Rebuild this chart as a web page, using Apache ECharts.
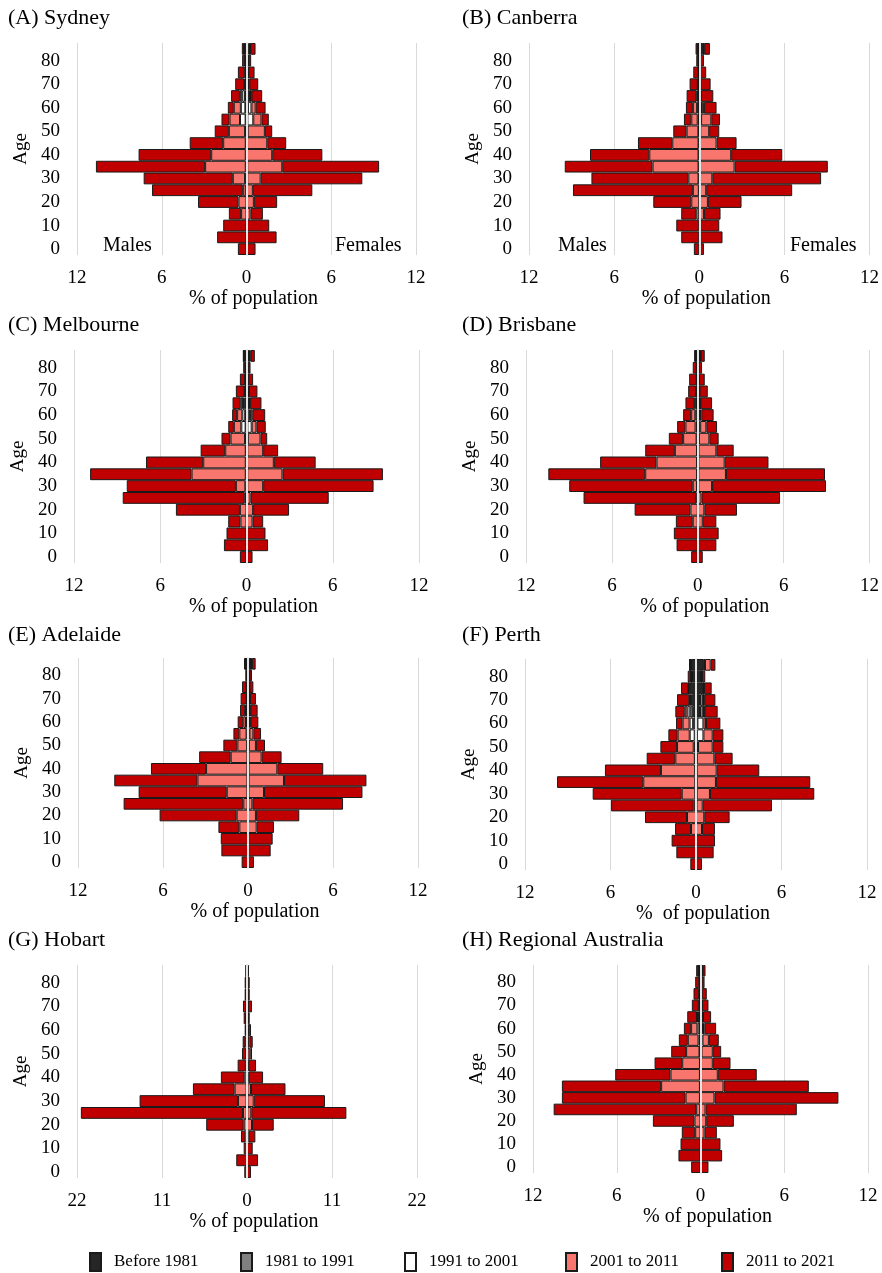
<!DOCTYPE html>
<html>
<head>
<meta charset="utf-8">
<script src="https://cdn.jsdelivr.net/npm/echarts@6/dist/echarts.min.js"></script>
<style>
  html, body { margin: 0; padding: 0; background: #fff; }
  #chart { width: 882px; height: 1273px; }
</style>
</head>
<body>
<div id="chart"></div>
<script>
// Age groups (start of each 5-year band), bottom to top
const ageStart = [0, 5, 10, 15, 20, 25, 30, 35, 40, 45, 50, 55, 60, 65, 70, 75, 80, 85];

// Period of arrival, innermost (next to the centre line) to outermost
const periods = ['Before 1981', '1981 to 1991', '1991 to 2001', '2001 to 2011', '2011 to 2021'];
const periodColors = ['#262626', '#808080', '#ffffff', '#f8766d', '#c00000'];

// % of population by age band; rows follow `periods`
const sydneyMales = [
  [0,0,0,0,0,0,0,0,0,0,0.01,0.02,0.02,0.03,0.02,0.02,0.03,0.08],
  [0,0,0,0,0,0,0,0,0,0.01,0.02,0.04,0.06,0.07,0.03,0.02,0.02,0.04],
  [0,0,0,0,0,0.05,0.1,0.05,0.05,0.04,0.07,0.4,0.32,0.2,0.04,0.03,0.02,0.04],
  [0,0,0,0.38,0.57,0.21,0.87,2.88,2.45,1.6,1.15,0.74,0.5,0.17,0.08,0.05,0.03,0.02],
  [0.61,2.08,1.65,0.87,2.86,6.43,6.31,7.73,5.14,2.37,1.0,0.57,0.42,0.62,0.63,0.49,0.21,0.15]
];
const sydneyFemales = [
  [0,0,0,0,0,0,0,0,0,0,0.01,0.02,0.05,0.2,0.05,0.04,0.05,0.15],
  [0,0,0,0,0,0,0,0,0,0.01,0.02,0.04,0.05,0.05,0.04,0.03,0.03,0.05],
  [0,0,0,0,0,0.03,0.05,0.05,0.03,0.03,0.05,0.42,0.25,0.05,0.05,0.03,0.03,0.05],
  [0,0,0,0.28,0.52,0.42,0.95,2.48,1.79,1.43,1.22,0.58,0.3,0.05,0.06,0.05,0.04,0.05],
  [0.64,2.13,1.61,0.88,1.65,4.21,7.2,6.86,3.55,1.34,0.52,0.52,0.7,0.76,0.63,0.42,0.18,0.34]
];
const canberraMales = [
  [0,0,0,0,0,0,0,0,0,0,0,0.01,0.02,0.05,0.03,0.02,0.02,0.06],
  [0,0,0,0,0,0,0,0,0,0,0.01,0.02,0.03,0.03,0.02,0.01,0.01,0.03],
  [0,0,0,0,0,0.03,0.05,0.05,0.05,0.05,0.05,0.08,0.1,0.05,0.02,0.02,0.01,0.03],
  [0,0,0,0.21,0.56,0.42,0.72,3.24,3.47,1.85,0.83,0.45,0.3,0.07,0.03,0.02,0.01,0.01],
  [0.38,1.27,1.62,1.06,2.68,8.45,6.83,6.19,4.18,2.42,0.94,0.52,0.49,0.69,0.58,0.35,0.16,0.13]
];
const canberraFemales = [
  [0,0,0,0,0,0,0,0,0,0,0,0.01,0.1,0.03,0.02,0.02,0.02,0.25],
  [0,0,0,0,0,0,0,0,0,0,0.01,0.02,0.03,0.02,0.02,0.01,0.01,0.04],
  [0,0,0,0,0,0.02,0.04,0.05,0.05,0.05,0.06,0.1,0.05,0.03,0.02,0.02,0.01,0.03],
  [0,0,0,0.33,0.61,0.47,0.88,2.44,2.2,1.17,0.63,0.72,0.15,0.04,0.02,0.01,0.01,0.04],
  [0.33,1.64,1.41,1.17,2.37,6.06,7.67,6.57,3.6,1.41,0.71,0.61,0.89,0.87,0.72,0.43,0.28,0.39]
];
const melbourneMales = [
  [0,0,0,0,0,0,0,0,0,0,0.01,0.02,0.03,0.08,0.04,0.03,0.03,0.1],
  [0,0,0,0,0,0,0,0,0,0.01,0.02,0.04,0.06,0.06,0.03,0.02,0.02,0.04],
  [0,0,0,0,0,0.03,0.08,0.05,0.05,0.04,0.07,0.3,0.2,0.1,0.03,0.02,0.02,0.04],
  [0,0,0,0.42,0.46,0.09,0.66,3.77,2.96,1.43,1.01,0.52,0.36,0.16,0.05,0.03,0.02,0.02],
  [0.46,1.57,1.39,0.85,4.45,8.49,7.59,7.06,3.98,1.71,0.63,0.39,0.35,0.57,0.59,0.36,0.14,0.03]
];
const melbourneFemales = [
  [0,0,0,0,0,0,0,0,0,0,0.01,0.02,0.04,0.1,0.05,0.04,0.04,0.12],
  [0,0,0,0,0,0,0,0,0,0.01,0.02,0.04,0.05,0.05,0.04,0.03,0.03,0.05],
  [0,0,0,0,0,0.03,0.05,0.05,0.04,0.04,0.06,0.3,0.15,0.05,0.04,0.03,0.02,0.05],
  [0,0,0,0.42,0.46,0.25,1.11,2.45,1.86,1.11,0.88,0.33,0.16,0.05,0.04,0.03,0.03,0.06],
  [0.42,1.5,1.32,0.74,2.5,5.44,7.68,6.99,2.91,1.04,0.47,0.65,0.9,0.79,0.59,0.33,0.16,0.3]
];
const brisbaneMales = [
  [0,0,0,0,0,0,0,0,0,0,0.01,0.02,0.03,0.06,0.03,0.02,0.02,0.08],
  [0,0,0,0,0,0,0,0,0,0.01,0.02,0.03,0.04,0.04,0.02,0.02,0.02,0.04],
  [0,0,0,0,0,0.02,0.05,0.05,0.05,0.04,0.05,0.1,0.1,0.05,0.03,0.02,0.02,0.03],
  [0,0,0,0.35,0.51,0.07,0.3,3.62,2.83,1.55,0.94,0.71,0.29,0.1,0.04,0.04,0.02,0.03],
  [0.46,1.48,1.67,1.18,3.9,7.89,8.63,6.77,3.94,2.07,1.0,0.58,0.56,0.61,0.55,0.5,0.27,0.05]
];
const brisbaneFemales = [
  [0,0,0,0,0,0,0,0,0,0,0.01,0.02,0.04,0.08,0.04,0.03,0.03,0.1],
  [0,0,0,0,0,0,0,0,0,0.01,0.02,0.03,0.04,0.04,0.03,0.02,0.02,0.04],
  [0,0,0,0,0,0.02,0.04,0.04,0.04,0.04,0.05,0.12,0.08,0.04,0.03,0.02,0.02,0.04],
  [0,0,0,0.35,0.46,0.24,0.96,1.93,1.84,1.25,0.73,0.43,0.09,0.04,0.02,0.02,0.01,0.04],
  [0.35,1.3,1.46,0.95,2.28,5.49,7.96,6.92,3.06,1.21,0.65,0.75,0.86,0.8,0.58,0.4,0.22,0.27]
];
const adelaideMales = [
  [0,0,0,0,0,0,0,0,0,0,0.01,0.02,0.03,0.06,0.04,0.03,0.03,0.1],
  [0,0,0,0,0,0,0,0,0,0.01,0.01,0.02,0.03,0.03,0.02,0.02,0.01,0.03],
  [0,0,0,0,0,0.02,0.04,0.04,0.04,0.03,0.04,0.06,0.08,0.04,0.02,0.02,0.01,0.03],
  [0,0,0,0.61,0.8,0.31,1.46,3.53,2.92,1.18,0.69,0.51,0.19,0.07,0.04,0.03,0.02,0.02],
  [0.45,1.88,1.92,1.48,5.44,8.45,6.22,5.87,3.89,2.23,0.99,0.42,0.4,0.36,0.4,0.32,0.12,0.1]
];
const adelaideFemales = [
  [0,0,0,0,0,0,0,0,0,0,0.01,0.02,0.03,0.06,0.05,0.04,0.04,0.15],
  [0,0,0,0,0,0,0,0,0,0.01,0.01,0.02,0.03,0.03,0.03,0.02,0.02,0.04],
  [0,0,0,0,0,0.02,0.03,0.04,0.04,0.03,0.04,0.06,0.06,0.04,0.03,0.02,0.02,0.04],
  [0,0,0,0.61,0.56,0.29,1.1,2.5,2.03,0.92,0.5,0.28,0.08,0.04,0.03,0.02,0.02,0.05],
  [0.42,1.6,1.74,1.22,3.06,6.4,6.95,5.82,3.24,1.41,0.64,0.54,0.53,0.51,0.42,0.28,0.18,0.26]
];
const perthMales = [
  [0,0,0,0,0,0,0,0,0,0.01,0.02,0.03,0.05,0.2,0.3,0.45,0.28,0.35],
  [0,0,0,0,0,0,0,0,0.01,0.02,0.04,0.06,0.15,0.2,0.06,0.05,0.03,0.04],
  [0,0,0,0,0,0.03,0.05,0.05,0.05,0.05,0.1,0.35,0.25,0.2,0.06,0.02,0.02,0.02],
  [0,0,0,0.35,0.63,0.13,0.95,3.65,2.4,1.37,1.17,0.85,0.49,0.19,0.05,0.03,0.02,0.02],
  [0.4,1.38,1.71,1.12,2.95,5.8,6.25,6.05,3.93,2.01,1.17,0.65,0.46,0.66,0.86,0.5,0.23,0.04]
];
const perthFemales = [
  [0,0,0,0,0,0,0,0,0,0,0.01,0.02,0.04,0.28,0.28,0.45,0.35,0.55],
  [0,0,0,0,0,0,0,0,0,0.01,0.03,0.04,0.06,0.23,0.22,0.05,0.03,0.05],
  [0,0,0,0,0,0.03,0.05,0.05,0.05,0.05,0.1,0.46,0.42,0.05,0.04,0.03,0.02,0.03],
  [0,0,0,0.42,0.58,0.44,0.93,1.35,1.4,1.23,1.03,0.65,0.18,0.04,0.04,0.03,0.02,0.4],
  [0.42,1.24,1.33,0.91,1.78,4.86,7.32,6.62,2.99,1.28,0.75,0.75,1.01,0.92,0.78,0.54,0.23,0.33]
];
const hobartMales = [
  [0,0,0,0,0,0,0,0,0,0,0.01,0.02,0.03,0.05,0.05,0.05,0.05,0.05],
  [0,0,0,0,0,0,0,0,0,0.01,0.01,0.02,0.02,0.03,0.02,0.02,0.02,0.02],
  [0,0,0,0,0,0.03,0.05,0.05,0.04,0.03,0.03,0.05,0.03,0.02,0.02,0.02,0.02,0.02],
  [0,0,0,0.2,0.43,0.49,1.12,1.55,0.31,0.11,0.07,0.11,0.04,0.03,0.03,0.02,0.01,0.01],
  [0.35,1.39,0.43,0.58,4.85,20.98,12.73,5.4,3.03,1.06,0.53,0.36,0.18,0.3,0.4,0.19,0.2,0.03]
];
const hobartFemales = [
  [0,0,0,0,0,0,0,0,0,0,0.01,0.02,0.03,0.05,0.05,0.05,0.05,0.05],
  [0,0,0,0,0,0,0,0,0,0.01,0.01,0.02,0.02,0.02,0.02,0.02,0.02,0.02],
  [0,0,0,0,0,0.03,0.04,0.04,0.03,0.03,0.05,0.05,0.03,0.02,0.02,0.02,0.02,0.02],
  [0,0,0,0.2,0.65,0.53,0.83,0.48,0.17,0.11,0.36,0.21,0.04,0.03,0.03,0.01,0.01,0.01],
  [0.52,1.43,0.74,0.88,2.81,12.3,9.22,4.46,1.88,1.02,0.22,0.44,0.4,0.23,0.53,0.25,0.25,0.12]
];
const regionalMales = [
  [0,0,0,0,0,0,0,0,0,0,0.01,0.02,0.03,0.06,0.04,0.03,0.03,0.08],
  [0,0,0,0,0,0,0,0,0,0.01,0.01,0.02,0.04,0.04,0.02,0.02,0.02,0.03],
  [0,0,0,0,0,0.02,0.04,0.04,0.04,0.03,0.05,0.1,0.15,0.05,0.02,0.02,0.02,0.03],
  [0,0,0,0.38,0.43,0.29,1.03,2.78,2.11,1.27,0.96,0.77,0.45,0.1,0.04,0.03,0.02,0.02],
  [0.67,1.58,1.43,0.96,2.98,10.21,8.86,7.11,3.96,1.98,1.07,0.64,0.52,0.7,0.5,0.4,0.29,0.15]
];
const regionalFemales = [
  [0,0,0,0,0,0,0,0,0,0,0.01,0.02,0.04,0.06,0.04,0.03,0.03,0.08],
  [0,0,0,0,0,0,0,0,0,0.01,0.01,0.02,0.04,0.03,0.02,0.02,0.02,0.03],
  [0,0,0,0,0,0.02,0.03,0.04,0.04,0.03,0.05,0.1,0.1,0.04,0.02,0.02,0.02,0.03],
  [0,0,0,0.29,0.41,0.34,0.97,1.61,1.2,0.84,0.81,0.46,0.12,0.05,0.03,0.02,0.02,0.03],
  [0.57,1.55,1.43,0.88,1.98,6.54,8.88,6.11,2.79,1.27,0.6,0.71,0.82,0.58,0.46,0.36,0.2,0.19]
];

// Panel titles, x-axis limits and x-axis titles
const panelTitles = ['(A) Sydney', '(B) Canberra', '(C) Melbourne', '(D) Brisbane',
                     '(E) Adelaide', '(F) Perth', '(G) Hobart', '(H) Regional Australia'];
const panelMales = [sydneyMales, canberraMales, melbourneMales, brisbaneMales,
                    adelaideMales, perthMales, hobartMales, regionalMales];
const panelFemales = [sydneyFemales, canberraFemales, melbourneFemales, brisbaneFemales,
                      adelaideFemales, perthFemales, hobartFemales, regionalFemales];
const panelAxisMax = [12, 12, 12, 12, 12, 12, 22, 12];
const panelAxisStep = [6, 6, 6, 6, 6, 6, 11, 6];
const panelAxisNames = ['% of population', '% of population', '% of population', '% of population',
                        '% of population', '%  of population', '% of population', '% of population'];

// ---- layout (pixels) ----
const FONT = "'Liberation Serif', 'Times New Roman', serif";
const plotBoxes = [
  [77, 43, 339, 212], [529, 43, 341, 212],
  [74, 350, 345, 213], [526, 350, 344, 213],
  [78, 658, 340, 210], [525, 659, 342, 211],
  [77, 965, 340, 213], [533, 965, 335, 208]
];
const titleSpots = [[8, 7], [462, 7], [8, 314], [462, 314], [8, 624], [462, 624], [8, 929], [462, 929]];
const legendLefts = [89, 240, 404, 565, 721];

const grids = [], xAxes = [], yAxes = [], series = [], titles = [];

plotBoxes.forEach((b, p) => {
  grids.push({ left: b[0], top: b[1], width: b[2], height: b[3], containLabel: false });

  titles.push({
    text: panelTitles[p], left: titleSpots[p][0], top: titleSpots[p][1], padding: 0,
    textStyle: { fontFamily: FONT, fontSize: 22, fontWeight: 'normal', color: '#000' }
  });

  xAxes.push({
    gridIndex: p, type: 'value',
    min: -panelAxisMax[p], max: panelAxisMax[p], interval: panelAxisStep[p],
    axisLine: { show: false }, axisTick: { show: false },
    axisLabel: { formatter: v => String(Math.abs(v)), fontFamily: FONT, fontSize: 19, color: '#000', margin: 14 },
    splitLine: { show: true, lineStyle: { color: '#d9d9d9', width: 1 } },
    name: panelAxisNames[p], nameLocation: 'middle', nameGap: 34,
    nameTextStyle: { fontFamily: FONT, fontSize: 20, color: '#000', padding: [0, 0, 0, 14] }
  });

  // age axis with labels on the left
  yAxes.push({
    gridIndex: p, type: 'category', data: ageStart,
    axisLine: { show: false, onZero: false }, axisTick: { show: false },
    axisLabel: { interval: 1, fontFamily: FONT, fontSize: 19, color: '#000', margin: 17,
                 formatter: v => (Number(v) % 10 === 0 ? v : '') },
    splitLine: { show: false },
    name: 'Age', nameLocation: 'middle', nameGap: 46, nameRotate: 90,
    nameTextStyle: { fontFamily: FONT, fontSize: 19, color: '#000' }
  });
  // light centre line drawn over the bars at 0
  yAxes.push({
    gridIndex: p, type: 'category', data: ageStart, z: 10,
    axisLine: { show: true, onZero: true, lineStyle: { color: '#e4e4e4', width: 2 } },
    axisTick: { show: false }, axisLabel: { show: false }, splitLine: { show: false }
  });

  periods.forEach((name, k) => {
    const style = { color: periodColors[k], borderColor: '#1a1a1a', borderWidth: 1 };
    series.push({
      type: 'bar', name, xAxisIndex: p, yAxisIndex: 2 * p, stack: 'pyr' + p,
      barCategoryGap: '0%', itemStyle: style, emphasis: { disabled: true },
      data: panelMales[p][k].map(v => (v ? -v : '-'))
    });
    series.push({
      type: 'bar', name, xAxisIndex: p, yAxisIndex: 2 * p, stack: 'pyr' + p,
      barCategoryGap: '0%', itemStyle: style, emphasis: { disabled: true },
      data: panelFemales[p][k].map(v => (v ? v : '-'))
    });
  });
});

const legends = periods.map((name, k) => ({
  data: [name], left: legendLefts[k], top: 1252, icon: 'rect',
  itemWidth: 11, itemHeight: 18, itemGap: 0, padding: 0,
  textStyle: { fontFamily: FONT, fontSize: 17, color: '#000', padding: [0, 0, 0, 8] }
}));

// sex labels inside the two top panels
const sexLabel = (text, x) => ({
  type: 'text', left: x, top: 236,
  style: { text, fontFamily: FONT, fontSize: 20, fill: '#000' }
});

const chart = echarts.init(document.getElementById('chart'), null, { renderer: 'canvas' });
chart.setOption({
  backgroundColor: '#fff',
  animation: false,
  title: titles,
  legend: legends,
  grid: grids,
  xAxis: xAxes,
  yAxis: yAxes,
  series,
  graphic: [
    sexLabel('Males', 103), sexLabel('Females', 335),
    sexLabel('Males', 558), sexLabel('Females', 790)
  ]
});
</script>
</body>
</html>
